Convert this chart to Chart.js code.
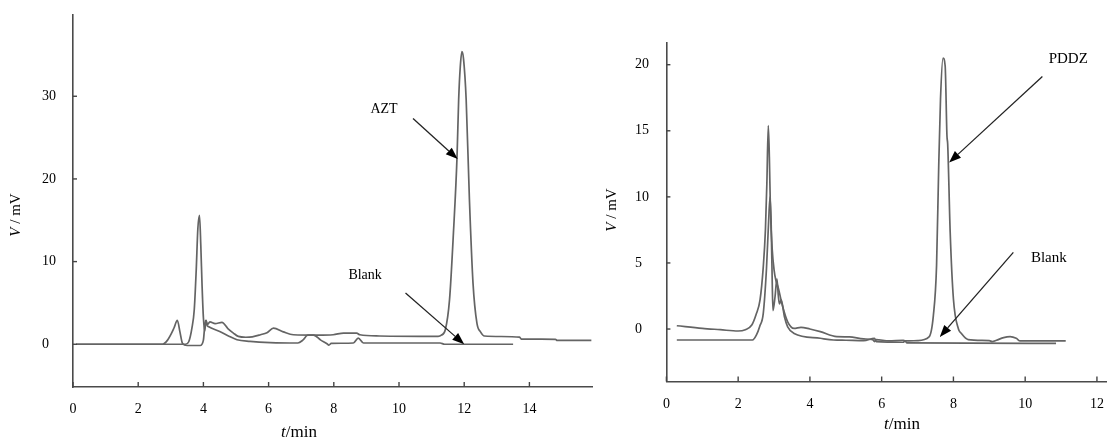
<!DOCTYPE html>
<html><head><meta charset="utf-8">
<script src="https://cdn.jsdelivr.net/npm/chart.js@4.4.1/dist/chart.umd.min.js"></script>
<style>
html,body{margin:0;padding:0;background:#fff;}
#wrap{position:relative;width:1118px;height:442px;overflow:hidden;background:#fff;}
.pane{position:absolute;top:0;height:442px;}
</style></head><body>
<div id="wrap">
<div class="pane" style="left:0;width:600px"><canvas id="c1"></canvas></div>
<div class="pane" style="left:600px;width:518px"><canvas id="c2"></canvas></div>
</div>
<script>
// ---------- data ----------
// Left panel: AZT
const leftSampleT = [0.1, 3.45, 3.55, 3.65, 3.72, 3.78, 3.83, 3.88, 3.92, 3.96, 4.0, 4.04, 4.08, 4.12, 4.2, 4.36, 4.57, 4.75, 4.92, 5.07, 5.3, 5.5, 5.75, 5.95, 6.15, 6.45, 6.76, 7.5, 7.98, 8.3, 8.7, 8.8, 9.4, 11.2, 11.3, 11.42, 11.55, 11.67, 11.78, 11.83, 11.88, 11.93, 11.98, 12.06, 12.16, 12.27, 12.39, 12.5, 12.62, 13.7, 13.75, 14.8, 14.85, 15.9];
const leftSampleV = [0, 0, 0.3, 2, 4.2, 9, 14, 15.6, 12, 7, 3.2, 1.6, 2.9, 2.4, 2.7, 2.5, 2.65, 1.9, 1.35, 0.95, 0.85, 0.9, 1.15, 1.4, 1.95, 1.5, 1.15, 1.1, 1.15, 1.35, 1.35, 1.15, 1.0, 0.95, 1.1, 1.75, 5.4, 13.5, 22.7, 29.6, 33.6, 35.4, 34.5, 29.6, 17.5, 7.4, 2.55, 1.5, 1.0, 0.87, 0.63, 0.6, 0.46, 0.46];
const leftBlankT = [0.1, 2.75, 2.9, 3.03, 3.1, 3.2, 3.28, 3.36, 3.5, 3.9, 4.0, 4.05, 4.08, 4.11, 4.15, 4.5, 4.8, 5.03, 5.43, 6.05, 6.9, 7.05, 7.2, 7.38, 7.6, 7.78, 7.85, 7.92, 8.6, 8.75, 8.91, 11.26, 11.4, 13.5];
const leftBlankV = [0, 0, 0.5, 1.4, 2.0, 2.9, 1.5, 0.1, -0.15, -0.15, 0.5, 2.6, 2.9, 2.3, 2.15, 1.55, 0.95, 0.55, 0.35, 0.2, 0.15, 0.5, 1.1, 1.1, 0.5, 0.1, -0.1, 0.1, 0.15, 0.75, 0.15, 0.15, 0, 0];
const leftXTicks = [0, 2, 4, 6, 8, 10, 12, 14];
const leftYTicks = [0, 10, 20, 30];

// Right panel: PDDZ
const rightSampleT = [0.29, 1.0, 1.5, 2.0, 2.2, 2.38, 2.5, 2.61, 2.7, 2.76, 2.8, 2.84, 2.87, 2.9, 2.95, 3.0, 3.05, 3.11, 3.24, 3.38, 3.56, 3.75, 4.0, 4.29, 4.75, 5.1, 5.5, 5.75, 5.8, 5.85, 6.2, 6.6, 6.65, 7.0, 7.32, 7.44, 7.53, 7.59, 7.64, 7.71, 7.77, 7.82, 7.84, 7.91, 8.0, 8.14, 8.21, 8.41, 9.0, 9.08, 9.2, 9.4, 9.58, 9.75, 9.86, 11.13];
const rightSampleV = [0.25, 0.05, -0.05, -0.15, -0.05, 0.3, 1.1, 2.2, 4.7, 7.5, 11, 15.4, 13, 9, 6, 4.5, 3.7, 3.2, 1.7, 0.55, 0.05, 0.13, 0.0, -0.2, -0.58, -0.6, -0.75, -0.8, -0.95, -0.8, -0.9, -0.85, -0.9, -0.88, -0.6, 1.0, 4.8, 12.3, 17.4, 20.5, 19.9, 14.6, 14.0, 7.3, 2.27, 0.0, -0.3, -0.8, -0.88, -0.95, -0.85, -0.65, -0.58, -0.7, -0.9, -0.9];
const rightBlankT = [0.29, 2.4, 2.51, 2.6, 2.7, 2.79, 2.85, 2.89, 2.92, 2.95, 2.97, 3.03, 3.08, 3.12, 3.15, 3.2, 3.29, 3.38, 3.56, 4.29, 4.66, 5.0, 5.5, 5.8, 5.85, 6.6, 6.65, 6.7, 10.86];
const rightBlankV = [-0.83, -0.83, -0.45, 0.2, 1.19, 4.6, 8.2, 10.0, 8.0, 3.5, 1.4, 2.5, 3.8, 2.5, 1.9, 2.2, 0.93, 0.17, -0.33, -0.7, -0.83, -0.85, -0.88, -0.7, -0.95, -1.0, -0.9, -1.05, -1.08];
const rightXTicks = [0, 2, 4, 6, 8, 10, 12];
const rightYTicks = [0, 5, 10, 15, 20];

// Labels with arrows (data coordinates)
const leftNotes = [
  {text: 'AZT',   tx: 9.54, ty: 28.4, x0: 10.43, y0: 27.3, x1: 11.8, y1: 22.4},
  {text: 'Blank', tx: 8.96, ty: 8.3,  x0: 10.2,  y0: 6.2,  x1: 12.0, y1: 0.0}
];
const rightNotes = [
  {text: 'PDDZ',  tx: 11.2,  ty: 20.4, x0: 10.48, y0: 19.1, x1: 7.88, y1: 12.6},
  {text: 'Blank', tx: 10.66, ty: 5.4,  x0: 9.67,  y0: 5.8,  x1: 7.62, y1: -0.6}
];

// ---------- drawing ----------
const SERIF = '"Liberation Serif", "Times New Roman", serif';
function pts(t, v) { return t.map((x, i) => ({x: x, y: v[i]})); }

function drawRich(ctx, parts, cx, cy, rot, size) {
  ctx.save();
  ctx.translate(cx, cy);
  ctx.rotate(rot);
  ctx.textBaseline = 'middle';
  ctx.textAlign = 'left';
  let w = 0;
  parts.forEach(p => { ctx.font = (p.i ? 'italic ' : '') + size + 'px ' + SERIF; w += ctx.measureText(p.t).width; });
  let x = -w / 2;
  ctx.fillStyle = '#000';
  parts.forEach(p => { ctx.font = (p.i ? 'italic ' : '') + size + 'px ' + SERIF; ctx.fillText(p.t, x, 0); x += ctx.measureText(p.t).width; });
  ctx.restore();
}

function arrow(ctx, x0, y0, x1, y1) {
  const ang = Math.atan2(y1 - y0, x1 - x0), L = 12, W = 4.5;
  const bx = x1 - L * Math.cos(ang), by = y1 - L * Math.sin(ang);
  ctx.strokeStyle = '#222'; ctx.lineWidth = 1.3;
  ctx.beginPath(); ctx.moveTo(x0, y0); ctx.lineTo(bx, by); ctx.stroke();
  ctx.fillStyle = '#000';
  ctx.beginPath();
  ctx.moveTo(x1, y1);
  ctx.lineTo(bx + W * Math.sin(ang), by - W * Math.cos(ang));
  ctx.lineTo(bx - W * Math.sin(ang), by + W * Math.cos(ang));
  ctx.closePath(); ctx.fill();
}

const decor = {
  id: 'decor',
  afterDraw(chart, args, o) {
    const ctx = chart.ctx, xs = chart.scales.x, ys = chart.scales.y, a = chart.chartArea;
    ctx.save();
    ctx.strokeStyle = '#444'; ctx.lineWidth = 1.4;
    xs.ticks.forEach(t => { const px = xs.getPixelForValue(t.value); ctx.beginPath(); ctx.moveTo(px, a.bottom); ctx.lineTo(px, a.bottom - 5); ctx.stroke(); });
    ys.ticks.forEach(t => { const py = ys.getPixelForValue(t.value); ctx.beginPath(); ctx.moveTo(a.left, py); ctx.lineTo(a.left + 4, py); ctx.stroke(); });
    drawRich(ctx, [{t: 't', i: true}, {t: '/min'}], o.xTitle[0], o.xTitle[1], 0, 17);
    drawRich(ctx, [{t: 'V', i: true}, {t: ' / mV'}], o.yTitle[0], o.yTitle[1], -Math.PI / 2, 15);
    o.notes.forEach(n => {
      ctx.font = o.noteSize + 'px ' + SERIF; ctx.fillStyle = '#000';
      ctx.textAlign = 'center'; ctx.textBaseline = 'middle';
      ctx.fillText(n.text, xs.getPixelForValue(n.tx), ys.getPixelForValue(n.ty));
      arrow(ctx, xs.getPixelForValue(n.x0), ys.getPixelForValue(n.y0), xs.getPixelForValue(n.x1), ys.getPixelForValue(n.y1));
    });
    ctx.restore();
  }
};

function lineDs(data) {
  return {data: data, borderColor: '#646464', borderWidth: 1.7, pointRadius: 0, fill: false,
          cubicInterpolationMode: 'monotone'};
}

function makeChart(id, cfg) {
  const tickFont = {family: SERIF, size: 14};
  return new Chart(document.getElementById(id), {
    type: 'line',
    data: {datasets: [lineDs(pts(cfg.sT, cfg.sV)), lineDs(pts(cfg.bT, cfg.bV))]},
    options: {
      responsive: true, maintainAspectRatio: false, animation: false,
      layout: {padding: cfg.pad},
      plugins: {legend: {display: false}, tooltip: {enabled: false},
                decor: {notes: cfg.notes, xTitle: cfg.xTitle, yTitle: cfg.yTitle, noteSize: cfg.noteSize}},
      scales: {
        x: {type: 'linear', min: cfg.xr[0], max: cfg.xr[1],
            afterBuildTicks: s => { s.ticks = cfg.xt.map(v => ({value: v})); },
            afterFit: s => { s.height = cfg.xh; },
            grid: {display: false, drawTicks: false},
            border: {display: true, color: '#4a4a4a', width: 1.6},
            ticks: {color: '#000', font: tickFont, padding: cfg.xpad, maxRotation: 0, autoSkip: false}},
        y: {type: 'linear', min: cfg.yr[0], max: cfg.yr[1],
            afterBuildTicks: s => { s.ticks = cfg.yt.map(v => ({value: v})); },
            afterFit: s => { s.width = cfg.yw; },
            grid: {display: false, drawTicks: false},
            border: {display: true, color: '#4a4a4a', width: 1.6},
            ticks: {color: '#000', font: tickFont, crossAlign: 'far', autoSkip: false}}
      }
    },
    plugins: [decor]
  });
}

makeChart('c1', {
  sT: leftSampleT, sV: leftSampleV, bT: leftBlankT, bV: leftBlankV,
  xt: leftXTicks, yt: leftYTicks, xr: [0, 15.92], yr: [-5.17, 39.83],
  pad: {left: 42, right: 8, top: 15, bottom: 0}, xh: 55, yw: 31, xpad: 14,
  notes: leftNotes, xTitle: [299, 433], yTitle: [16, 215], noteSize: 14
});
makeChart('c2', {
  sT: rightSampleT, sV: rightSampleV, bT: rightBlankT, bV: rightBlankV,
  xt: rightXTicks, yt: rightYTicks, xr: [0, 12.27], yr: [-3.97, 21.68],
  pad: {left: 35, right: 3, top: 42.5, bottom: 0}, xh: 60.5, yw: 31.4, xpad: 14,
  notes: rightNotes, xTitle: [302, 425], yTitle: [12, 210], noteSize: 15
});
</script>
</body></html>
